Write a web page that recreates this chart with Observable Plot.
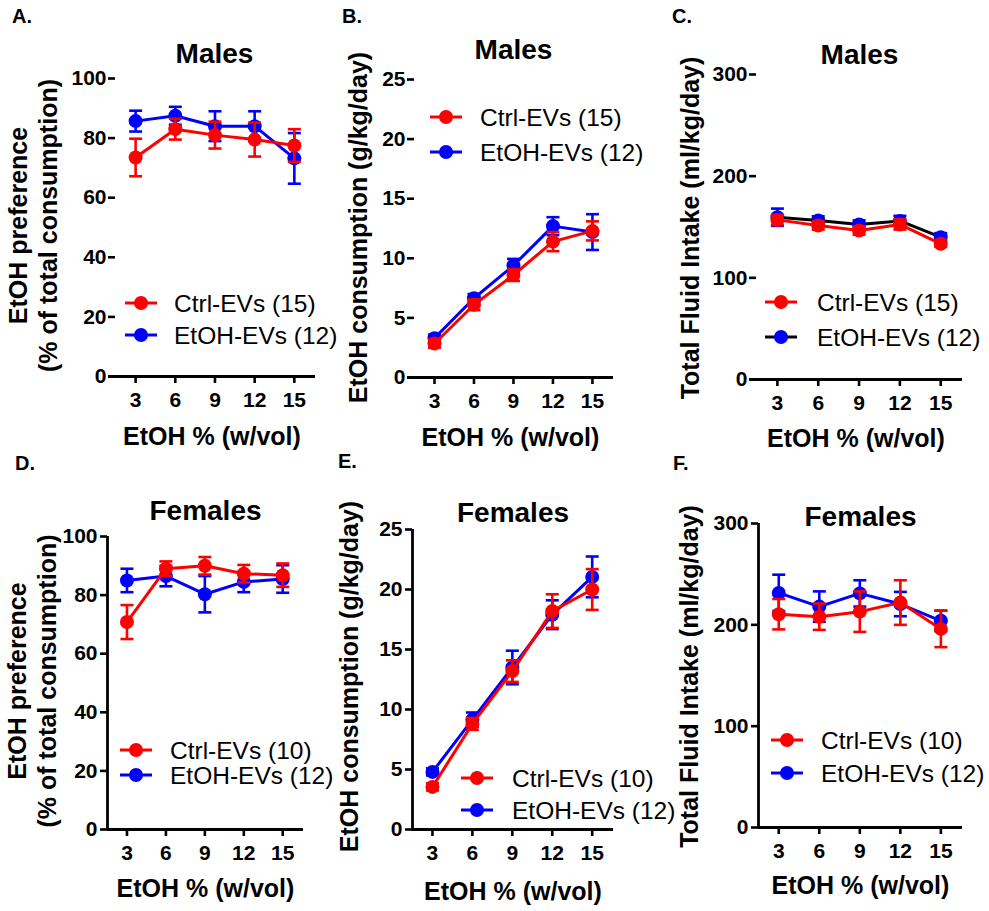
<!DOCTYPE html>
<html><head><meta charset="utf-8">
<script src="https://cdn.jsdelivr.net/npm/d3@7"></script>
<script src="https://cdn.jsdelivr.net/npm/@observablehq/plot@0.6"></script>
<style>
body{margin:0;background:#fff;}
#page{position:relative;width:989px;height:911px;overflow:hidden;font-family:"Liberation Sans",Arial,sans-serif;}
#page svg{overflow:visible;}
.panel{position:absolute;}
</style></head><body><div id="page"></div>
<script>
// ---- data ----
const conc = [3, 6, 9, 12, 15];
const xTicks = [3, 6, 9, 12, 15];

// A. Males, EtOH preference (%)
const malePrefCtrl = [73.5, 83, 81, 79.5, 77.5];
const malePrefCtrlSem = [6.3, 3.5, 4.5, 5.7, 5.5];
const malePrefEtoh = [85.7, 87.5, 84, 84, 73.2];
const malePrefEtohSem = [3.5, 3, 5, 5, 8.5];
// B. Males, EtOH consumption (g/kg/day)
const maleConsCtrl = [2.85, 6.1, 8.6, 11.4, 12.3];
const maleConsCtrlSem = [0.35, 0.45, 0.5, 0.8, 0.8];
const maleConsEtoh = [3.3, 6.65, 9.4, 12.7, 12.2];
const maleConsEtohSem = [0.3, 0.35, 0.55, 0.75, 1.5];
// C. Males, Total fluid intake (ml/kg/day)
const maleFluidCtrl = [157, 151.5, 146.5, 152.5, 133.5];
const maleFluidCtrlSem = [5, 4, 4, 5, 3];
const maleFluidEtoh = [159.6, 156.5, 152.5, 156, 140];
const maleFluidEtohSem = [8.5, 4, 4, 5, 4];
// D. Females, EtOH preference (%)
const femPrefCtrl = [70.8, 89, 90, 87.3, 86.8];
const femPrefCtrlSem = [5.8, 2.5, 3, 3, 4];
const femPrefEtoh = [85, 86.5, 80.3, 84.5, 85.5];
const femPrefEtohSem = [4, 3.5, 6.2, 3.5, 4.7];
// E. Females, EtOH consumption (g/kg/day)
const femConsCtrl = [3.55, 8.8, 13.2, 18.2, 20.0];
const femConsCtrlSem = [0.3, 0.5, 0.9, 1.4, 1.7];
const femConsEtoh = [4.8, 9.15, 13.5, 17.9, 21.05];
const femConsEtohSem = [0.3, 0.6, 1.4, 1.2, 1.7];
// F. Females, Total fluid intake (ml/kg/day)
const femFluidCtrl = [210.5, 208, 213, 222, 196];
const femFluidCtrlSem = [15, 13, 20, 22, 18];
const femFluidEtoh = [231.5, 218, 231, 220.5, 204];
const femFluidEtohSem = [18, 15, 13, 12, 10];

const prefTicks = [0, 20, 40, 60, 80, 100];
const consTicks = [0, 5, 10, 15, 20, 25];
const fluidTicks = [0, 100, 200, 300];

const ctrlMale = "Ctrl-EVs (15)", etohMale = "EtOH-EVs (12)";
const ctrlFem = "Ctrl-EVs (10)", etohFem = "EtOH-EVs (12)";
const prefLabel = "EtOH preference\n(% of total consumption)";
const consLabel = "EtOH consumption (g/kg/day)";
const fluidLabel = "Total Fluid Intake (ml/kg/day)";
const xLabel = "EtOH % (w/vol)";

const RED = "#ff0000", BLUE = "#0000ff", BLACK = "#000000";

// ---- layout ----
const panels = [
  {letter:"A.", lp:[12,23], left:0, top:0, width:330, height:450, f:{l:108,r:315,t:78,b:376},
   xd:[0.95,16.6], yd:[0,100], yt:prefTicks, yLine:false, title:"Males", to:[2.5,-24],
   yl:prefLabel, ylo:[-76,-2], xld:60,
   ctrl:[malePrefCtrl, malePrefCtrlSem, ctrlMale], etoh:[malePrefEtoh, malePrefEtohSem, etohMale], etohLine:BLUE,
   leg:{x:125, y:303, s:32, t:49}},
  {letter:"B.", lp:[342,23], left:330, top:0, width:330, height:450, f:{l:407,r:613,t:79,b:377},
   xd:[0.95,16.6], yd:[0,25], yt:consTicks, yLine:false, title:"Males", to:[3,-29],
   yl:consLabel, ylo:[-50,-1], xld:60,
   ctrl:[maleConsCtrl, maleConsCtrlSem, ctrlMale], etoh:[maleConsEtoh, maleConsEtohSem, etohMale], etohLine:BLUE,
   leg:{x:430, y:117, s:35, t:50}},
  {letter:"C.", lp:[672,23], left:660, top:0, width:329, height:450, f:{l:749,r:962,t:74,b:379},
   xd:[0.95,16.6], yd:[0,300], yt:fluidTicks, yLine:false, title:"Males", to:[3.5,-19],
   yl:fluidLabel, ylo:[-60,1], xld:59,
   ctrl:[maleFluidCtrl, maleFluidCtrlSem, ctrlMale], etoh:[maleFluidEtoh, maleFluidEtohSem, etohMale], etohLine:BLACK,
   leg:{x:765, y:302, s:35, t:52}},
  {letter:"D.", lp:[15,470], left:0, top:450, width:330, height:461, f:{l:107,r:303,t:536,b:829},
   xd:[1.5,16.6], yd:[0,100], yt:prefTicks, yLine:true, title:"Females", to:[0,-25],
   yl:prefLabel, ylo:[-76,-2], xld:59,
   ctrl:[femPrefCtrl, femPrefCtrlSem, ctrlFem], etoh:[femPrefEtoh, femPrefEtohSem, etohFem], etohLine:BLUE,
   leg:{x:120, y:750, s:25, t:50}},
  {letter:"E.", lp:[338,468], left:330, top:450, width:330, height:461, f:{l:412,r:613,t:529,b:829},
   xd:[1.5,16.6], yd:[0,25], yt:consTicks, yLine:true, title:"Females", to:[0,-16],
   yl:consLabel, ylo:[-64,-3], xld:62,
   ctrl:[femConsCtrl, femConsCtrlSem, ctrlFem], etoh:[femConsEtoh, femConsEtohSem, etohFem], etohLine:BLUE,
   leg:{x:461, y:778, s:32, t:51}},
  {letter:"F.", lp:[673,470], left:660, top:450, width:329, height:461, f:{l:758,r:962,t:523,b:827},
   xd:[1.5,16.6], yd:[0,300], yt:fluidTicks, yLine:true, title:"Females", to:[0,-6],
   yl:fluidLabel, ylo:[-70,1], xld:58,
   ctrl:[femFluidCtrl, femFluidCtrlSem, ctrlFem], etoh:[femFluidEtoh, femFluidEtohSem, etohFem], etohLine:BLUE,
   leg:{x:771, y:740, s:33, t:50}}
];

// horizontal error-bar cap as a custom symbol
const cap = {draw(ctx, size){ const r = Math.sqrt(size/Math.PI); ctx.moveTo(-r,0); ctx.lineTo(r,0); }};

const FONT = '"Liberation Sans", Arial, sans-serif';
const page = document.getElementById("page");

function rows(vals, sem){ return conc.map((x,i)=>({x, y:vals[i], lo:vals[i]-sem[i], hi:vals[i]+sem[i]})); }

function seriesMarks(data, color, lineColor){
  return [
    Plot.ruleX(data, {x:"x", y1:"lo", y2:"hi", stroke:color, strokeWidth:2.6}),
    Plot.dot(data, {x:"x", y:"hi", symbol:cap, r:6.5, stroke:color, fill:"none", strokeWidth:2.6}),
    Plot.dot(data, {x:"x", y:"lo", symbol:cap, r:6.5, stroke:color, fill:"none", strokeWidth:2.6}),
    Plot.line(data, {x:"x", y:"y", stroke:lineColor, strokeWidth:3}),
    Plot.dot(data, {x:"x", y:"y", r:7, fill:color})
  ];
}

for (const p of panels){
  const ml = p.f.l - p.left, mr = p.left + p.width - p.f.r, mt = p.f.t - p.top, mb = p.top + p.height - p.f.b;
  const ctrl = rows(p.ctrl[0], p.ctrl[1]);
  const etoh = rows(p.etoh[0], p.etoh[1]);
  const marks = [
    Plot.axisX({ticks:xTicks, tickFormat:d=>String(d), tickSize:7, tickPadding:9, strokeWidth:2.6,
      fontSize:21, fontWeight:"bold", label:null}),
    Plot.axisY(p.yLine
      ? {ticks:p.yt, tickFormat:d=>String(d), tickSize:7, tickPadding:3, strokeWidth:2.6, fontSize:21, fontWeight:"bold", label:null}
      : {ticks:p.yt, tickFormat:d=>String(d), tickSize:7, tickPadding:2, dx:7, strokeWidth:2.6, fontSize:21, fontWeight:"bold", label:null}),
    Plot.ruleY([p.yd[0]], {stroke:BLACK, strokeWidth:2.8}),
    ...(p.yLine ? [Plot.ruleX([p.xd[0]], {stroke:BLACK, strokeWidth:2.8})] : []),
    ...seriesMarks(etoh, BLUE, p.etohLine),
    ...seriesMarks(ctrl, RED, RED),
    Plot.text([p.title], {text:d=>d, frameAnchor:"top", lineAnchor:"middle", textAnchor:"middle", dx:p.to[0], dy:p.to[1], fontSize:28, fontWeight:"bold"}),
    Plot.text([xLabel], {text:d=>d, frameAnchor:"bottom", lineAnchor:"middle", textAnchor:"middle", dy:p.xld, fontSize:25, fontWeight:"bold"}),
    Plot.text([p.yl], {text:d=>d, frameAnchor:"left", lineAnchor:"middle", textAnchor:"middle", dx:p.ylo[0], dy:p.ylo[1], rotate:-90, fontSize:25, fontWeight:"bold", lineHeight:1.2})
  ];
  const chart = Plot.plot({
    width:p.width, height:p.height,
    marginLeft:ml, marginRight:mr, marginTop:mt, marginBottom:mb,
    x:{domain:p.xd}, y:{domain:p.yd},
    style:{fontFamily:FONT, color:"#000", background:"transparent", overflow:"visible"},
    marks
  });
  chart.classList.add("panel");
  chart.style.left = p.left + "px";
  chart.style.top = p.top + "px";
  page.appendChild(chart);
}

// ---- overlay: panel letters and legends ----
const ov = d3.select(page).append("svg")
  .attr("width", 989).attr("height", 911)
  .style("position","absolute").style("left","0px").style("top","0px")
  .style("font-family", FONT);

for (const p of panels){
  ov.append("text").attr("x", p.lp[0]).attr("y", p.lp[1])
    .attr("font-size", 20).attr("font-weight","bold").text(p.letter);
  const items = [
    {name:p.ctrl[2], color:RED, line:RED},
    {name:p.etoh[2], color:BLUE, line:p.etohLine}
  ];
  items.forEach((it, i) => {
    const y = p.leg.y + i * p.leg.s;
    const g = ov.append("g").attr("transform", `translate(${p.leg.x},${y})`);
    g.append("line").attr("x1",0).attr("x2",32).attr("y1",0).attr("y2",0)
      .attr("stroke", it.line).attr("stroke-width", 3);
    g.append("circle").attr("cx",16).attr("cy",0).attr("r",7).attr("fill", it.color);
    g.append("text").attr("x", p.leg.t).attr("y", 8.7).attr("font-size", 24.5).text(it.name);
  });
}
</script></body></html>
